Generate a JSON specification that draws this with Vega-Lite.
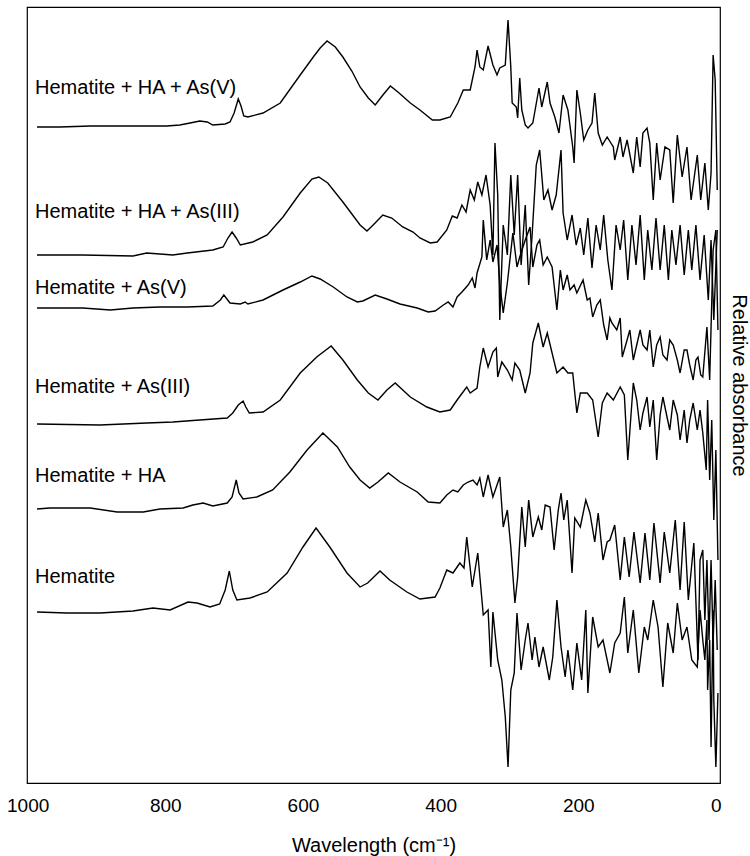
{
"$schema": "https://vega.github.io/schema/vega-lite/v6.json",
"width": 693, "height": 776,
"autosize": {"type": "none"},
"padding": {"left": 27, "top": 7, "right": 30, "bottom": 73},
"background": "white",
"config": {"view": {"stroke": "black", "strokeWidth": 1.2}, "font": "Liberation Sans"},
"datasets": {
"labels": [
{"sample": "Hematite + HA + As(V)", "wn": 989.3, "abs": 6.95},
{"sample": "Hematite + HA + As(III)", "wn": 989.3, "abs": 5.71},
{"sample": "Hematite + As(V)", "wn": 989.3, "abs": 4.95},
{"sample": "Hematite + As(III)", "wn": 989.3, "abs": 3.96},
{"sample": "Hematite + HA", "wn": 989.3, "abs": 3.07},
{"sample": "Hematite", "wn": 989.3, "abs": 2.06}
],
"spectra": [
{"sample":"S1","wn":986.4,"abs":6.56},{"sample":"S1","wn":953,"abs":6.56},{"sample":"S1","wn":909,"abs":6.57},{"sample":"S1","wn":866,"abs":6.57},{"sample":"S1","wn":822,"abs":6.57},{"sample":"S1","wn":798,"abs":6.57},{"sample":"S1","wn":779,"abs":6.58},{"sample":"S1","wn":764,"abs":6.60},{"sample":"S1","wn":750,"abs":6.62},{"sample":"S1","wn":739,"abs":6.61},{"sample":"S1","wn":731,"abs":6.58},{"sample":"S1","wn":713,"abs":6.59},{"sample":"S1","wn":706,"abs":6.61},{"sample":"S1","wn":700,"abs":6.70},{"sample":"S1","wn":694,"abs":6.84},{"sample":"S1","wn":690,"abs":6.77},{"sample":"S1","wn":686,"abs":6.67},{"sample":"S1","wn":680,"abs":6.66},{"sample":"S1","wn":658,"abs":6.70},{"sample":"S1","wn":633,"abs":6.80},{"sample":"S1","wn":604,"abs":7.08},{"sample":"S1","wn":585,"abs":7.26},{"sample":"S1","wn":575,"abs":7.35},{"sample":"S1","wn":565,"abs":7.42},{"sample":"S1","wn":553,"abs":7.36},{"sample":"S1","wn":542,"abs":7.26},{"sample":"S1","wn":529,"abs":7.12},{"sample":"S1","wn":517,"abs":6.96},{"sample":"S1","wn":505,"abs":6.85},{"sample":"S1","wn":495,"abs":6.78},{"sample":"S1","wn":485,"abs":6.87},{"sample":"S1","wn":473,"abs":6.97},{"sample":"S1","wn":462,"abs":6.91},{"sample":"S1","wn":444,"abs":6.80},{"sample":"S1","wn":430,"abs":6.73},{"sample":"S1","wn":412,"abs":6.63},{"sample":"S1","wn":401,"abs":6.63},{"sample":"S1","wn":386,"abs":6.66},{"sample":"S1","wn":375,"abs":6.80},{"sample":"S1","wn":367,"abs":6.93},{"sample":"S1","wn":357,"abs":6.93},{"sample":"S1","wn":350,"abs":7.16},{"sample":"S1","wn":347,"abs":7.33},{"sample":"S1","wn":343,"abs":7.16},{"sample":"S1","wn":338,"abs":7.13},{"sample":"S1","wn":331,"abs":7.37},{"sample":"S1","wn":324,"abs":7.18},{"sample":"S1","wn":318,"abs":7.08},{"sample":"S1","wn":314,"abs":7.15},{"sample":"S1","wn":306,"abs":7.18},{"sample":"S1","wn":302,"abs":7.63},{"sample":"S1","wn":298,"abs":7.16},{"sample":"S1","wn":296,"abs":6.80},{"sample":"S1","wn":290,"abs":6.76},{"sample":"S1","wn":288,"abs":6.65},{"sample":"S1","wn":285,"abs":7.05},{"sample":"S1","wn":282,"abs":6.73},{"sample":"S1","wn":277,"abs":6.58},{"sample":"S1","wn":273,"abs":6.55},{"sample":"S1","wn":266,"abs":6.60},{"sample":"S1","wn":257,"abs":6.95},{"sample":"S1","wn":253,"abs":6.76},{"sample":"S1","wn":245,"abs":7.01},{"sample":"S1","wn":241,"abs":6.80},{"sample":"S1","wn":234,"abs":6.66},{"sample":"S1","wn":228,"abs":6.50},{"sample":"S1","wn":222,"abs":6.88},{"sample":"S1","wn":215,"abs":6.73},{"sample":"S1","wn":208,"abs":6.36},{"sample":"S1","wn":206,"abs":6.20},{"sample":"S1","wn":202,"abs":6.93},{"sample":"S1","wn":197,"abs":6.70},{"sample":"S1","wn":192,"abs":6.43},{"sample":"S1","wn":186,"abs":6.53},{"sample":"S1","wn":180,"abs":6.60},{"sample":"S1","wn":176,"abs":6.90},{"sample":"S1","wn":171,"abs":6.50},{"sample":"S1","wn":165,"abs":6.38},{"sample":"S1","wn":158,"abs":6.46},{"sample":"S1","wn":149,"abs":6.36},{"sample":"S1","wn":147,"abs":6.23},{"sample":"S1","wn":139,"abs":6.46},{"sample":"S1","wn":135,"abs":6.26},{"sample":"S1","wn":129,"abs":6.43},{"sample":"S1","wn":120,"abs":6.10},{"sample":"S1","wn":115,"abs":6.46},{"sample":"S1","wn":110,"abs":6.16},{"sample":"S1","wn":106,"abs":6.50},{"sample":"S1","wn":100,"abs":6.55},{"sample":"S1","wn":96,"abs":6.40},{"sample":"S1","wn":91,"abs":5.83},{"sample":"S1","wn":86,"abs":6.40},{"sample":"S1","wn":81,"abs":6.03},{"sample":"S1","wn":74,"abs":6.36},{"sample":"S1","wn":67,"abs":6.33},{"sample":"S1","wn":62,"abs":5.80},{"sample":"S1","wn":56,"abs":6.48},{"sample":"S1","wn":49,"abs":6.06},{"sample":"S1","wn":42,"abs":6.36},{"sample":"S1","wn":36,"abs":5.83},{"sample":"S1","wn":27,"abs":6.28},{"sample":"S1","wn":22,"abs":5.83},{"sample":"S1","wn":16,"abs":6.20},{"sample":"S1","wn":11,"abs":5.73},{"sample":"S1","wn":7,"abs":6.10},{"sample":"S1","wn":4,"abs":7.28},{"sample":"S1","wn":1,"abs":7.03},{"sample":"S1","wn":-2,"abs":5.93},
{"sample":"S2","wn":986.4,"abs":5.28},{"sample":"S2","wn":920,"abs":5.28},{"sample":"S2","wn":847,"abs":5.27},{"sample":"S2","wn":827,"abs":5.30},{"sample":"S2","wn":789,"abs":5.28},{"sample":"S2","wn":768,"abs":5.30},{"sample":"S2","wn":731,"abs":5.33},{"sample":"S2","wn":716,"abs":5.36},{"sample":"S2","wn":709,"abs":5.45},{"sample":"S2","wn":703,"abs":5.51},{"sample":"S2","wn":697,"abs":5.45},{"sample":"S2","wn":691,"abs":5.38},{"sample":"S2","wn":673,"abs":5.41},{"sample":"S2","wn":652,"abs":5.48},{"sample":"S2","wn":629,"abs":5.66},{"sample":"S2","wn":604,"abs":5.90},{"sample":"S2","wn":587,"abs":6.04},{"sample":"S2","wn":577,"abs":6.06},{"sample":"S2","wn":564,"abs":6.00},{"sample":"S2","wn":542,"abs":5.81},{"sample":"S2","wn":517,"abs":5.58},{"sample":"S2","wn":507,"abs":5.52},{"sample":"S2","wn":498,"abs":5.58},{"sample":"S2","wn":484,"abs":5.68},{"sample":"S2","wn":471,"abs":5.65},{"sample":"S2","wn":455,"abs":5.56},{"sample":"S2","wn":440,"abs":5.51},{"sample":"S2","wn":430,"abs":5.45},{"sample":"S2","wn":415,"abs":5.40},{"sample":"S2","wn":405,"abs":5.41},{"sample":"S2","wn":391,"abs":5.53},{"sample":"S2","wn":383,"abs":5.67},{"sample":"S2","wn":376,"abs":5.65},{"sample":"S2","wn":369,"abs":5.78},{"sample":"S2","wn":363,"abs":5.71},{"sample":"S2","wn":357,"abs":5.93},{"sample":"S2","wn":351,"abs":5.83},{"sample":"S2","wn":346,"abs":6.01},{"sample":"S2","wn":340,"abs":5.88},{"sample":"S2","wn":334,"abs":6.08},{"sample":"S2","wn":328,"abs":5.78},{"sample":"S2","wn":324,"abs":5.28},{"sample":"S2","wn":321,"abs":6.40},{"sample":"S2","wn":317,"abs":5.88},{"sample":"S2","wn":314,"abs":4.63},{"sample":"S2","wn":309,"abs":5.58},{"sample":"S2","wn":303,"abs":5.28},{"sample":"S2","wn":298,"abs":6.08},{"sample":"S2","wn":293,"abs":5.48},{"sample":"S2","wn":288,"abs":6.08},{"sample":"S2","wn":283,"abs":5.18},{"sample":"S2","wn":277,"abs":5.78},{"sample":"S2","wn":272,"abs":4.98},{"sample":"S2","wn":267,"abs":5.48},{"sample":"S2","wn":261,"abs":6.18},{"sample":"S2","wn":256,"abs":6.33},{"sample":"S2","wn":250,"abs":5.83},{"sample":"S2","wn":244,"abs":5.93},{"sample":"S2","wn":238,"abs":5.73},{"sample":"S2","wn":232,"abs":5.88},{"sample":"S2","wn":225,"abs":6.33},{"sample":"S2","wn":222,"abs":5.70},{"sample":"S2","wn":216,"abs":5.43},{"sample":"S2","wn":209,"abs":5.68},{"sample":"S2","wn":203,"abs":5.38},{"sample":"S2","wn":197,"abs":5.55},{"sample":"S2","wn":192,"abs":5.28},{"sample":"S2","wn":186,"abs":5.65},{"sample":"S2","wn":180,"abs":5.15},{"sample":"S2","wn":174,"abs":5.58},{"sample":"S2","wn":168,"abs":5.33},{"sample":"S2","wn":163,"abs":5.68},{"sample":"S2","wn":157,"abs":5.23},{"sample":"S2","wn":151,"abs":4.93},{"sample":"S2","wn":145,"abs":5.58},{"sample":"S2","wn":139,"abs":5.33},{"sample":"S2","wn":134,"abs":5.63},{"sample":"S2","wn":128,"abs":5.03},{"sample":"S2","wn":122,"abs":5.58},{"sample":"S2","wn":116,"abs":5.18},{"sample":"S2","wn":110,"abs":5.68},{"sample":"S2","wn":104,"abs":5.03},{"sample":"S2","wn":99,"abs":5.53},{"sample":"S2","wn":93,"abs":5.13},{"sample":"S2","wn":87,"abs":5.65},{"sample":"S2","wn":81,"abs":5.13},{"sample":"S2","wn":75,"abs":5.58},{"sample":"S2","wn":69,"abs":5.03},{"sample":"S2","wn":64,"abs":5.53},{"sample":"S2","wn":58,"abs":5.18},{"sample":"S2","wn":52,"abs":5.58},{"sample":"S2","wn":46,"abs":5.08},{"sample":"S2","wn":40,"abs":5.53},{"sample":"S2","wn":35,"abs":5.13},{"sample":"S2","wn":29,"abs":5.58},{"sample":"S2","wn":23,"abs":5.03},{"sample":"S2","wn":17,"abs":5.48},{"sample":"S2","wn":11,"abs":4.83},{"sample":"S2","wn":7,"abs":5.43},{"sample":"S2","wn":3,"abs":4.63},{"sample":"S2","wn":-2,"abs":5.53},
{"sample":"S3","wn":986.4,"abs":4.75},{"sample":"S3","wn":920,"abs":4.75},{"sample":"S3","wn":880,"abs":4.73},{"sample":"S3","wn":847,"abs":4.75},{"sample":"S3","wn":808,"abs":4.76},{"sample":"S3","wn":768,"abs":4.76},{"sample":"S3","wn":731,"abs":4.77},{"sample":"S3","wn":720,"abs":4.83},{"sample":"S3","wn":715,"abs":4.88},{"sample":"S3","wn":706,"abs":4.80},{"sample":"S3","wn":691,"abs":4.79},{"sample":"S3","wn":684,"abs":4.81},{"sample":"S3","wn":680,"abs":4.79},{"sample":"S3","wn":658,"abs":4.83},{"sample":"S3","wn":629,"abs":4.93},{"sample":"S3","wn":604,"abs":5.01},{"sample":"S3","wn":587,"abs":5.07},{"sample":"S3","wn":575,"abs":5.04},{"sample":"S3","wn":556,"abs":4.96},{"sample":"S3","wn":536,"abs":4.86},{"sample":"S3","wn":521,"abs":4.81},{"sample":"S3","wn":513,"abs":4.82},{"sample":"S3","wn":495,"abs":4.88},{"sample":"S3","wn":478,"abs":4.84},{"sample":"S3","wn":459,"abs":4.79},{"sample":"S3","wn":434,"abs":4.75},{"sample":"S3","wn":418,"abs":4.71},{"sample":"S3","wn":408,"abs":4.72},{"sample":"S3","wn":396,"abs":4.78},{"sample":"S3","wn":389,"abs":4.81},{"sample":"S3","wn":382,"abs":4.76},{"sample":"S3","wn":376,"abs":4.86},{"sample":"S3","wn":369,"abs":4.91},{"sample":"S3","wn":360,"abs":4.98},{"sample":"S3","wn":354,"abs":5.05},{"sample":"S3","wn":350,"abs":4.95},{"sample":"S3","wn":347,"abs":5.10},{"sample":"S3","wn":340,"abs":5.26},{"sample":"S3","wn":338,"abs":5.63},{"sample":"S3","wn":333,"abs":5.23},{"sample":"S3","wn":328,"abs":5.43},{"sample":"S3","wn":324,"abs":5.21},{"sample":"S3","wn":318,"abs":5.38},{"sample":"S3","wn":314,"abs":5.00},{"sample":"S3","wn":309,"abs":4.70},{"sample":"S3","wn":303,"abs":5.00},{"sample":"S3","wn":295,"abs":5.50},{"sample":"S3","wn":289,"abs":5.16},{"sample":"S3","wn":285,"abs":5.26},{"sample":"S3","wn":277,"abs":5.43},{"sample":"S3","wn":270,"abs":5.56},{"sample":"S3","wn":266,"abs":5.16},{"sample":"S3","wn":260,"abs":5.38},{"sample":"S3","wn":256,"abs":5.43},{"sample":"S3","wn":251,"abs":5.18},{"sample":"S3","wn":245,"abs":5.26},{"sample":"S3","wn":238,"abs":5.16},{"sample":"S3","wn":231,"abs":4.73},{"sample":"S3","wn":226,"abs":5.13},{"sample":"S3","wn":222,"abs":4.93},{"sample":"S3","wn":216,"abs":5.08},{"sample":"S3","wn":212,"abs":4.93},{"sample":"S3","wn":206,"abs":4.98},{"sample":"S3","wn":202,"abs":4.90},{"sample":"S3","wn":193,"abs":5.03},{"sample":"S3","wn":187,"abs":4.83},{"sample":"S3","wn":183,"abs":4.85},{"sample":"S3","wn":179,"abs":4.66},{"sample":"S3","wn":173,"abs":4.78},{"sample":"S3","wn":168,"abs":4.83},{"sample":"S3","wn":163,"abs":4.58},{"sample":"S3","wn":158,"abs":4.43},{"sample":"S3","wn":154,"abs":4.65},{"sample":"S3","wn":151,"abs":4.60},{"sample":"S3","wn":144,"abs":4.53},{"sample":"S3","wn":139,"abs":4.65},{"sample":"S3","wn":136,"abs":4.26},{"sample":"S3","wn":129,"abs":4.43},{"sample":"S3","wn":125,"abs":4.53},{"sample":"S3","wn":120,"abs":4.23},{"sample":"S3","wn":115,"abs":4.38},{"sample":"S3","wn":110,"abs":4.53},{"sample":"S3","wn":106,"abs":4.38},{"sample":"S3","wn":100,"abs":4.33},{"sample":"S3","wn":96,"abs":4.53},{"sample":"S3","wn":91,"abs":4.16},{"sample":"S3","wn":86,"abs":4.38},{"sample":"S3","wn":81,"abs":4.46},{"sample":"S3","wn":77,"abs":4.28},{"sample":"S3","wn":71,"abs":4.23},{"sample":"S3","wn":67,"abs":4.43},{"sample":"S3","wn":62,"abs":4.38},{"sample":"S3","wn":56,"abs":4.23},{"sample":"S3","wn":52,"abs":4.10},{"sample":"S3","wn":46,"abs":4.33},{"sample":"S3","wn":42,"abs":4.33},{"sample":"S3","wn":38,"abs":4.18},{"sample":"S3","wn":33,"abs":4.03},{"sample":"S3","wn":29,"abs":4.23},{"sample":"S3","wn":26,"abs":4.26},{"sample":"S3","wn":22,"abs":4.08},{"sample":"S3","wn":19,"abs":4.06},{"sample":"S3","wn":13,"abs":4.56},{"sample":"S3","wn":9,"abs":4.03},{"sample":"S3","wn":4,"abs":5.33},{"sample":"S3","wn":0,"abs":5.53},{"sample":"S3","wn":-3,"abs":4.53},
{"sample":"S4","wn":986.4,"abs":3.59},{"sample":"S4","wn":895,"abs":3.58},{"sample":"S4","wn":827,"abs":3.60},{"sample":"S4","wn":789,"abs":3.61},{"sample":"S4","wn":750,"abs":3.63},{"sample":"S4","wn":710,"abs":3.65},{"sample":"S4","wn":702,"abs":3.70},{"sample":"S4","wn":694,"abs":3.78},{"sample":"S4","wn":687,"abs":3.82},{"sample":"S4","wn":683,"abs":3.76},{"sample":"S4","wn":678,"abs":3.70},{"sample":"S4","wn":658,"abs":3.71},{"sample":"S4","wn":633,"abs":3.83},{"sample":"S4","wn":604,"abs":4.10},{"sample":"S4","wn":580,"abs":4.26},{"sample":"S4","wn":559,"abs":4.37},{"sample":"S4","wn":542,"abs":4.23},{"sample":"S4","wn":521,"abs":4.03},{"sample":"S4","wn":505,"abs":3.90},{"sample":"S4","wn":491,"abs":3.83},{"sample":"S4","wn":478,"abs":3.93},{"sample":"S4","wn":466,"abs":4.00},{"sample":"S4","wn":444,"abs":3.86},{"sample":"S4","wn":420,"abs":3.76},{"sample":"S4","wn":401,"abs":3.71},{"sample":"S4","wn":386,"abs":3.73},{"sample":"S4","wn":376,"abs":3.83},{"sample":"S4","wn":362,"abs":3.96},{"sample":"S4","wn":357,"abs":3.90},{"sample":"S4","wn":347,"abs":3.95},{"sample":"S4","wn":343,"abs":4.16},{"sample":"S4","wn":338,"abs":4.35},{"sample":"S4","wn":331,"abs":4.16},{"sample":"S4","wn":324,"abs":4.31},{"sample":"S4","wn":319,"abs":4.35},{"sample":"S4","wn":317,"abs":4.06},{"sample":"S4","wn":311,"abs":4.21},{"sample":"S4","wn":303,"abs":4.13},{"sample":"S4","wn":296,"abs":4.03},{"sample":"S4","wn":292,"abs":4.20},{"sample":"S4","wn":285,"abs":4.13},{"sample":"S4","wn":277,"abs":3.90},{"sample":"S4","wn":270,"abs":4.10},{"sample":"S4","wn":266,"abs":4.40},{"sample":"S4","wn":258,"abs":4.60},{"sample":"S4","wn":251,"abs":4.36},{"sample":"S4","wn":245,"abs":4.50},{"sample":"S4","wn":238,"abs":4.30},{"sample":"S4","wn":231,"abs":4.10},{"sample":"S4","wn":222,"abs":4.16},{"sample":"S4","wn":215,"abs":4.10},{"sample":"S4","wn":208,"abs":4.10},{"sample":"S4","wn":202,"abs":3.70},{"sample":"S4","wn":197,"abs":3.90},{"sample":"S4","wn":187,"abs":3.90},{"sample":"S4","wn":179,"abs":3.83},{"sample":"S4","wn":171,"abs":3.46},{"sample":"S4","wn":165,"abs":3.80},{"sample":"S4","wn":158,"abs":3.90},{"sample":"S4","wn":149,"abs":3.83},{"sample":"S4","wn":139,"abs":3.96},{"sample":"S4","wn":133,"abs":3.88},{"sample":"S4","wn":128,"abs":3.23},{"sample":"S4","wn":120,"abs":4.00},{"sample":"S4","wn":115,"abs":3.83},{"sample":"S4","wn":110,"abs":3.53},{"sample":"S4","wn":106,"abs":3.70},{"sample":"S4","wn":100,"abs":3.86},{"sample":"S4","wn":96,"abs":3.56},{"sample":"S4","wn":91,"abs":3.83},{"sample":"S4","wn":86,"abs":3.23},{"sample":"S4","wn":81,"abs":3.68},{"sample":"S4","wn":77,"abs":3.86},{"sample":"S4","wn":71,"abs":3.66},{"sample":"S4","wn":67,"abs":3.53},{"sample":"S4","wn":62,"abs":3.83},{"sample":"S4","wn":56,"abs":3.68},{"sample":"S4","wn":52,"abs":3.43},{"sample":"S4","wn":46,"abs":3.73},{"sample":"S4","wn":42,"abs":3.40},{"sample":"S4","wn":38,"abs":3.63},{"sample":"S4","wn":33,"abs":3.80},{"sample":"S4","wn":27,"abs":3.53},{"sample":"S4","wn":23,"abs":3.73},{"sample":"S4","wn":19,"abs":3.50},{"sample":"S4","wn":14,"abs":3.13},{"sample":"S4","wn":12,"abs":3.83},{"sample":"S4","wn":9,"abs":3.03},{"sample":"S4","wn":6,"abs":3.63},{"sample":"S4","wn":3,"abs":2.63},{"sample":"S4","wn":0,"abs":3.33},{"sample":"S4","wn":-3,"abs":2.23},
{"sample":"S5","wn":986.4,"abs":2.74},{"sample":"S5","wn":968,"abs":2.75},{"sample":"S5","wn":909,"abs":2.75},{"sample":"S5","wn":870,"abs":2.71},{"sample":"S5","wn":832,"abs":2.71},{"sample":"S5","wn":808,"abs":2.74},{"sample":"S5","wn":774,"abs":2.75},{"sample":"S5","wn":760,"abs":2.78},{"sample":"S5","wn":745,"abs":2.80},{"sample":"S5","wn":731,"abs":2.77},{"sample":"S5","wn":710,"abs":2.80},{"sample":"S5","wn":703,"abs":2.86},{"sample":"S5","wn":697,"abs":3.03},{"sample":"S5","wn":693,"abs":2.90},{"sample":"S5","wn":687,"abs":2.84},{"sample":"S5","wn":667,"abs":2.86},{"sample":"S5","wn":644,"abs":2.93},{"sample":"S5","wn":619,"abs":3.11},{"sample":"S5","wn":594,"abs":3.33},{"sample":"S5","wn":571,"abs":3.50},{"sample":"S5","wn":550,"abs":3.36},{"sample":"S5","wn":532,"abs":3.16},{"sample":"S5","wn":517,"abs":3.03},{"sample":"S5","wn":503,"abs":2.95},{"sample":"S5","wn":491,"abs":3.01},{"sample":"S5","wn":476,"abs":3.10},{"sample":"S5","wn":459,"abs":3.01},{"sample":"S5","wn":434,"abs":2.91},{"sample":"S5","wn":418,"abs":2.81},{"sample":"S5","wn":401,"abs":2.80},{"sample":"S5","wn":391,"abs":2.88},{"sample":"S5","wn":382,"abs":2.93},{"sample":"S5","wn":375,"abs":2.91},{"sample":"S5","wn":367,"abs":2.98},{"sample":"S5","wn":360,"abs":3.01},{"sample":"S5","wn":353,"abs":3.03},{"sample":"S5","wn":347,"abs":2.98},{"sample":"S5","wn":343,"abs":3.05},{"sample":"S5","wn":338,"abs":2.86},{"sample":"S5","wn":331,"abs":3.08},{"sample":"S5","wn":324,"abs":2.86},{"sample":"S5","wn":318,"abs":2.98},{"sample":"S5","wn":314,"abs":3.06},{"sample":"S5","wn":309,"abs":2.56},{"sample":"S5","wn":303,"abs":2.73},{"sample":"S5","wn":298,"abs":2.36},{"sample":"S5","wn":292,"abs":1.80},{"sample":"S5","wn":288,"abs":2.06},{"sample":"S5","wn":282,"abs":2.76},{"sample":"S5","wn":277,"abs":2.36},{"sample":"S5","wn":272,"abs":2.83},{"sample":"S5","wn":266,"abs":2.46},{"sample":"S5","wn":258,"abs":2.66},{"sample":"S5","wn":253,"abs":2.53},{"sample":"S5","wn":248,"abs":2.78},{"sample":"S5","wn":241,"abs":2.76},{"sample":"S5","wn":235,"abs":2.33},{"sample":"S5","wn":229,"abs":2.73},{"sample":"S5","wn":225,"abs":2.90},{"sample":"S5","wn":221,"abs":2.63},{"sample":"S5","wn":216,"abs":2.83},{"sample":"S5","wn":209,"abs":2.10},{"sample":"S5","wn":205,"abs":2.65},{"sample":"S5","wn":197,"abs":2.56},{"sample":"S5","wn":189,"abs":2.83},{"sample":"S5","wn":183,"abs":2.70},{"sample":"S5","wn":176,"abs":2.41},{"sample":"S5","wn":171,"abs":2.70},{"sample":"S5","wn":164,"abs":2.23},{"sample":"S5","wn":158,"abs":2.41},{"sample":"S5","wn":154,"abs":2.43},{"sample":"S5","wn":147,"abs":2.58},{"sample":"S5","wn":139,"abs":2.03},{"sample":"S5","wn":133,"abs":2.46},{"sample":"S5","wn":126,"abs":2.06},{"sample":"S5","wn":119,"abs":2.51},{"sample":"S5","wn":110,"abs":2.00},{"sample":"S5","wn":103,"abs":2.50},{"sample":"S5","wn":96,"abs":2.03},{"sample":"S5","wn":90,"abs":2.60},{"sample":"S5","wn":81,"abs":2.00},{"sample":"S5","wn":75,"abs":2.51},{"sample":"S5","wn":67,"abs":2.10},{"sample":"S5","wn":59,"abs":2.63},{"sample":"S5","wn":52,"abs":1.93},{"sample":"S5","wn":46,"abs":2.61},{"sample":"S5","wn":40,"abs":1.83},{"sample":"S5","wn":32,"abs":2.40},{"sample":"S5","wn":26,"abs":1.23},{"sample":"S5","wn":23,"abs":2.23},{"sample":"S5","wn":19,"abs":2.33},{"sample":"S5","wn":16,"abs":1.63},{"sample":"S5","wn":13,"abs":2.23},{"sample":"S5","wn":10,"abs":1.43},{"sample":"S5","wn":7,"abs":2.23},{"sample":"S5","wn":4,"abs":1.40},{"sample":"S5","wn":1,"abs":2.03},{"sample":"S5","wn":-2,"abs":1.33},
{"sample":"S6","wn":986.4,"abs":1.71},{"sample":"S6","wn":943,"abs":1.70},{"sample":"S6","wn":895,"abs":1.70},{"sample":"S6","wn":847,"abs":1.72},{"sample":"S6","wn":818,"abs":1.75},{"sample":"S6","wn":793,"abs":1.73},{"sample":"S6","wn":767,"abs":1.81},{"sample":"S6","wn":754,"abs":1.80},{"sample":"S6","wn":735,"abs":1.76},{"sample":"S6","wn":721,"abs":1.79},{"sample":"S6","wn":713,"abs":1.93},{"sample":"S6","wn":707,"abs":2.12},{"sample":"S6","wn":702,"abs":1.93},{"sample":"S6","wn":696,"abs":1.83},{"sample":"S6","wn":677,"abs":1.85},{"sample":"S6","wn":652,"abs":1.91},{"sample":"S6","wn":623,"abs":2.10},{"sample":"S6","wn":600,"abs":2.36},{"sample":"S6","wn":581,"abs":2.55},{"sample":"S6","wn":561,"abs":2.36},{"sample":"S6","wn":536,"abs":2.10},{"sample":"S6","wn":517,"abs":1.96},{"sample":"S6","wn":506,"abs":2.00},{"sample":"S6","wn":488,"abs":2.12},{"sample":"S6","wn":474,"abs":2.03},{"sample":"S6","wn":449,"abs":1.91},{"sample":"S6","wn":430,"abs":1.84},{"sample":"S6","wn":408,"abs":1.86},{"sample":"S6","wn":401,"abs":1.95},{"sample":"S6","wn":391,"abs":2.13},{"sample":"S6","wn":382,"abs":2.10},{"sample":"S6","wn":372,"abs":2.20},{"sample":"S6","wn":366,"abs":2.15},{"sample":"S6","wn":362,"abs":2.46},{"sample":"S6","wn":354,"abs":1.96},{"sample":"S6","wn":346,"abs":2.30},{"sample":"S6","wn":338,"abs":1.68},{"sample":"S6","wn":331,"abs":1.73},{"sample":"S6","wn":327,"abs":1.16},{"sample":"S6","wn":324,"abs":1.71},{"sample":"S6","wn":317,"abs":1.23},{"sample":"S6","wn":311,"abs":1.03},{"sample":"S6","wn":306,"abs":0.66},{"sample":"S6","wn":302,"abs":0.16},{"sample":"S6","wn":298,"abs":0.93},{"sample":"S6","wn":293,"abs":1.10},{"sample":"S6","wn":289,"abs":1.70},{"sample":"S6","wn":283,"abs":1.13},{"sample":"S6","wn":277,"abs":1.43},{"sample":"S6","wn":273,"abs":1.60},{"sample":"S6","wn":267,"abs":1.23},{"sample":"S6","wn":263,"abs":1.46},{"sample":"S6","wn":257,"abs":1.16},{"sample":"S6","wn":251,"abs":1.36},{"sample":"S6","wn":242,"abs":1.03},{"sample":"S6","wn":237,"abs":1.26},{"sample":"S6","wn":231,"abs":1.83},{"sample":"S6","wn":225,"abs":1.36},{"sample":"S6","wn":219,"abs":1.06},{"sample":"S6","wn":215,"abs":1.33},{"sample":"S6","wn":208,"abs":0.93},{"sample":"S6","wn":202,"abs":1.40},{"sample":"S6","wn":195,"abs":1.03},{"sample":"S6","wn":189,"abs":1.73},{"sample":"S6","wn":186,"abs":0.90},{"sample":"S6","wn":179,"abs":1.66},{"sample":"S6","wn":171,"abs":1.36},{"sample":"S6","wn":164,"abs":1.43},{"sample":"S6","wn":154,"abs":1.10},{"sample":"S6","wn":147,"abs":1.40},{"sample":"S6","wn":139,"abs":1.50},{"sample":"S6","wn":133,"abs":1.86},{"sample":"S6","wn":128,"abs":1.30},{"sample":"S6","wn":120,"abs":1.73},{"sample":"S6","wn":112,"abs":1.10},{"sample":"S6","wn":104,"abs":1.56},{"sample":"S6","wn":99,"abs":1.43},{"sample":"S6","wn":91,"abs":1.83},{"sample":"S6","wn":84,"abs":1.56},{"sample":"S6","wn":77,"abs":0.96},{"sample":"S6","wn":70,"abs":1.60},{"sample":"S6","wn":62,"abs":1.30},{"sample":"S6","wn":56,"abs":1.80},{"sample":"S6","wn":49,"abs":1.43},{"sample":"S6","wn":42,"abs":1.56},{"sample":"S6","wn":35,"abs":1.23},{"sample":"S6","wn":27,"abs":1.16},{"sample":"S6","wn":23,"abs":1.73},{"sample":"S6","wn":19,"abs":1.43},{"sample":"S6","wn":16,"abs":1.23},{"sample":"S6","wn":13,"abs":1.63},{"sample":"S6","wn":12,"abs":0.93},{"sample":"S6","wn":9,"abs":1.43},{"sample":"S6","wn":7,"abs":0.36},{"sample":"S6","wn":4,"abs":1.73},{"sample":"S6","wn":3,"abs":0.83},{"sample":"S6","wn":0,"abs":0.16},{"sample":"S6","wn":-3,"abs":0.90}
]
},
"layer": [
{
"data": {"name": "spectra"},
"mark": {"type": "line", "color": "black", "strokeWidth": 1.4, "clip": true},
"encoding": {
"x": {"field": "wn", "type": "quantitative", "scale": {"domain": [1001, -6], "nice": false, "zero": false},
"axis": {"values": [1000, 800, 600, 400, 200, 0], "format": "d", "title": "Wavelength (cm⁻¹)", "grid": false, "domain": false, "ticks": false, "tickSize": 0, "labelPadding": 13, "labelFontSize": 19, "labelColor": "black", "labelFont": "Liberation Sans", "labelFlush": false, "titleFontSize": 20, "titleFontWeight": "normal", "titleColor": "black", "titleFont": "Liberation Sans", "titlePadding": 20}},
"y": {"field": "abs", "type": "quantitative", "scale": {"domain": [0, 7.76], "nice": false, "zero": false},
"axis": {"orient": "right", "title": "Relative absorbance", "labels": false, "ticks": false, "domain": false, "grid": false, "titleFontSize": 20, "titleFontWeight": "normal", "titleColor": "black", "titleFont": "Liberation Sans", "titlePadding": 8, "titleY": 378}},
"detail": {"field": "sample"}
}
},
{
"data": {"name": "labels"},
"mark": {"type": "text", "align": "left", "baseline": "middle", "fontSize": 20, "font": "Liberation Sans", "color": "black"},
"encoding": {
"x": {"field": "wn", "type": "quantitative"},
"y": {"field": "abs", "type": "quantitative"},
"text": {"field": "sample"}
}
}
]
}
